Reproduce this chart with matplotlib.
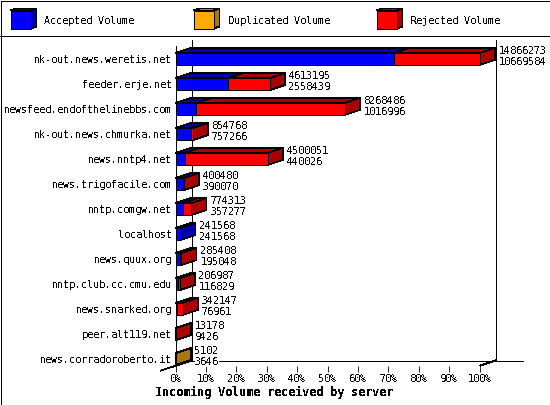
import matplotlib
matplotlib.use('Agg')
import matplotlib.pyplot as plt
import numpy as np
from matplotlib.patches import Polygon, Rectangle

plt.rcParams['font.family'] = 'DejaVu Sans Mono'
plt.rcParams['text.antialiased'] = False
plt.rcParams['text.hinting'] = 'force_autohint'
plt.rcParams['text.hinting_factor'] = 1
plt.rcParams['lines.antialiased'] = False
plt.rcParams['patch.antialiased'] = False

servers = ['nk-out.news.weretis.net', 'feeder.erje.net', 'newsfeed.endofthelinebbs.com',
           'nk-out.news.chmurka.net', 'news.nntp4.net', 'news.trigofacile.com',
           'nntp.comgw.net', 'localhost', 'news.quux.org', 'nntp.club.cc.cmu.edu',
           'news.snarked.org', 'peer.alt119.net', 'news.corradoroberto.it']
total = np.array([14866273, 4613195, 8268486, 854768, 4500051, 400480, 774313,
                  241568, 285408, 206987, 342147, 13178, 5102])
accepted = np.array([10669584, 2558439, 1016996, 757266, 440026, 390070, 357277,
                     241568, 195048, 116829, 76961, 9426, 3646])
duplicated = np.array([0, 0, 0, 0, 0, 0, 0, 0, 0, 0, 0, 0, 1456])
rejected = total - accepted - duplicated
xticks = [0, 10, 20, 30, 40, 50, 60, 70, 80, 90, 100]
legend_names = ['Accepted Volume', 'Duplicated Volume', 'Rejected Volume']
front_colors = ['#0000ff', '#ffaa00', '#ff0000']
dark_colors = ['#0000aa', '#aa7700', '#aa0000']

W, H = 550, 405
LW = 0.6  # about one pixel without antialiasing
FS = 7.2

fig = plt.figure(figsize=(W / 100, H / 100), dpi=100, facecolor='white')

# overlay in pixel coords for frame and legend
bg = fig.add_axes([0, 0, 1, 1], zorder=0)
bg.set_xlim(0, W)
bg.set_ylim(H, 0)
bg.axis('off')
bg.add_patch(Rectangle((0.5, 0.5), W - 1, H - 1, fc='white', ec='black', lw=LW))
bg.plot([0, W], [35.5, 35.5], color='black', lw=LW)
bg.plot([191.5, 191.5], [40, 360.5], color='black', lw=LW)
bg.plot([495.5, 495.5], [40, 360.5], color='black', lw=LW)
bg.plot([191.5, 523], [360.5, 360.5], color='black', lw=LW)
bg.plot([161, 191.5], [370.5, 360.5], color='black', lw=LW)
bg.plot([480.5, 495.5], [365.5, 360.5], color='black', lw=LW)


def swatch(x, y, c, d):
    w, h, dx, dy = 20, 18, 6, 2
    bg.add_patch(Polygon([(x, y), (x + dx, y - dy), (x + w + dx, y - dy), (x + w, y)], fc=d, ec='black', lw=LW))
    bg.add_patch(Polygon([(x + w, y), (x + w + dx, y - dy), (x + w + dx, y + h - dy), (x + w, y + h)], fc=d, ec='black', lw=LW))
    bg.add_patch(Rectangle((x, y), w, h, fc=c, ec='black', lw=LW))


for x, name, c, d in zip([10.5, 193.5, 376.5], legend_names, front_colors, dark_colors):
    swatch(x, 10.5, c, d)
    bg.text(x + 34, 20.5, name, fontsize=FS, va='center', ha='left')

bg.text(274, 392, 'Incoming Volume received by server', fontsize=8.4, fontweight='bold',
        va='center', ha='center')

# main axes is the front plane of the chart
x0, x1, y0, y1 = 175.6, 479.6, 45.5, 365.5
ax = fig.add_axes([x0 / W, 1 - y1 / H, (x1 - x0) / W, (y1 - y0) / H], zorder=1)
ax.patch.set_alpha(0)
ax.set_xlim(0, 100)
ax.set_ylim((y1 - 59) / 25, (y0 - 59) / 25)
for s in ['top', 'right', 'bottom']:
    ax.spines[s].set_visible(False)
ax.spines['left'].set_linewidth(LW)
ax.set_xticks(xticks)
ax.set_xticklabels(['%d%%' % t for t in xticks], fontsize=FS)
ax.tick_params(axis='x', length=4, width=LW, pad=2, direction='out')
ax.set_yticks(range(len(servers)))
ax.set_yticklabels(servers, fontsize=FS)
ax.tick_params(axis='y', length=0, pad=2.4)

bar_h = 12 / 25
dx = 15 / 304 * 100  # depth in data units
dy = 5 / 25
scale = 100 / total.max()
segments = [accepted, duplicated, rejected]

for i in range(len(servers)):
    left = 0
    z = 3
    for vals, c, d in zip(segments, front_colors, dark_colors):
        if vals[i] == 0:
            continue
        w = vals[i] * scale
        r = left + w
        t, b = i - bar_h / 2, i + bar_h / 2
        ax.add_patch(Polygon([(left, t), (r, t), (r + dx, t - dy), (left + dx, t - dy)],
                             fc=d, ec='black', lw=LW, zorder=z, clip_on=False))
        ax.add_patch(Polygon([(r, t), (r + dx, t - dy), (r + dx, b - dy), (r, b)],
                             fc=d, ec='black', lw=LW, zorder=z, clip_on=False))
        ax.barh(i, w, left=left, height=bar_h, color=c, edgecolor='black', lw=LW, zorder=z + 0.5)
        left = r
        z += 1
    end = total[i] * scale
    ax.annotate(str(total[i]), (end, i), xytext=(19 * 0.72, 8 * 0.72), textcoords='offset points',
                fontsize=FS, va='center', ha='left', zorder=8)
    ax.annotate(str(accepted[i]), (end, i), xytext=(19 * 0.72, -3 * 0.72), textcoords='offset points',
                fontsize=FS, va='center', ha='left', zorder=8,
                bbox=dict(fc='white', ec='none', pad=0))

fig.savefig('out.png', dpi=100)
